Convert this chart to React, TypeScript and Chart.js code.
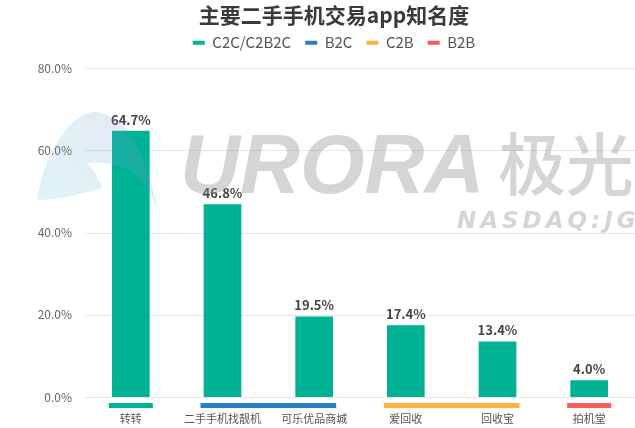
import React, { useEffect, useRef } from "react";
import { Chart, registerables } from "chart.js";

Chart.register(...registerables);

const titleText = "主要二手手机交易app知名度";
const categories = ["转转", "二手手机找靓机", "可乐优品商城", "爱回收", "回收宝", "拍机堂"];
const values = [64.7, 46.8, 19.5, 17.4, 13.4, 4.0];
const groupNames = ["C2C/C2B2C", "B2C", "C2B", "B2B"];
const groupColors = ["#00b294", "#2a7fc5", "#ffb243", "#ff5b5b"];
const categoryGroup = [0, 1, 1, 2, 2, 3];
const yTicks = [0, 20, 40, 60, 80];

const FONT = "'Noto Sans CJK SC', 'Noto Sans', sans-serif";

const decorPlugin = {
  id: "decor",
  beforeDatasetsDraw(chart: any) {
    const ctx = chart.ctx;
    const y = chart.scales.y;
    const area = chart.chartArea;
    ctx.save();
    ctx.strokeStyle = "#e6e6e6";
    ctx.lineWidth = 1;
    yTicks.forEach((t) => {
      const py = Math.round(y.getPixelForValue(t)) + 0.5;
      ctx.beginPath();
      ctx.moveTo(area.left, py);
      ctx.lineTo(chart.width, py);
      ctx.stroke();
    });
    ctx.restore();
  },
  afterDatasetsDraw(chart: any) {
    const ctx = chart.ctx;
    const x = chart.scales.x;
    const y = chart.scales.y;
    const meta = chart.getDatasetMeta(0);
    ctx.save();
    // value labels
    ctx.fillStyle = "#444";
    ctx.font = `bold 13px ${FONT}`;
    ctx.textAlign = "center";
    ctx.textBaseline = "bottom";
    meta.data.forEach((bar: any, i: number) => {
      ctx.fillText(values[i].toFixed(1) + "%", bar.x, bar.y - 5);
    });
    // group underlines
    const base = y.getPixelForValue(0);
    let start = 0;
    for (let i = 1; i <= categories.length; i++) {
      if (i === categories.length || categoryGroup[i] !== categoryGroup[start]) {
        const x0 = x.getPixelForValue(start) - 22;
        const x1 = x.getPixelForValue(i - 1) + 22;
        ctx.fillStyle = groupColors[categoryGroup[start]];
        ctx.fillRect(x0, base + 6, x1 - x0, 5);
        start = i;
      }
    }
    // watermark
    ctx.globalAlpha = 0.2;
    const grad = ctx.createLinearGradient(37, 200, 140, 110);
    grad.addColorStop(0, "#5cc8cc");
    grad.addColorStop(1, "#7f8fd8");
    ctx.fillStyle = grad;
    ctx.beginPath();
    ctx.moveTo(37, 200);
    ctx.bezierCurveTo(45, 150, 70, 115, 93, 112);
    ctx.bezierCurveTo(125, 110, 150, 160, 158, 215);
    ctx.bezierCurveTo(150, 180, 130, 160, 87, 163);
    ctx.bezierCurveTo(95, 172, 100, 180, 102, 188);
    ctx.bezierCurveTo(80, 195, 55, 200, 37, 200);
    ctx.fill();
    ctx.globalAlpha = 1;
    ctx.fillStyle = "rgba(150,150,150,0.4)";
    ctx.textAlign = "left";
    ctx.textBaseline = "alphabetic";
    ctx.font = `italic bold 83px 'Liberation Sans', sans-serif`;
    ctx.fillText("URORA", 180, 193);
    ctx.font = `500 68px ${FONT}`;
    ctx.fillText("极光", 498, 190);
    ctx.font = `italic bold 23px 'DejaVu Sans', sans-serif`;
    (ctx as any).letterSpacing = "4px";
    ctx.fillText("NASDAQ:JG", 457, 228);
    ctx.restore();
  },
};

export default function App() {
  const ref = useRef<HTMLCanvasElement>(null);
  useEffect(() => {
    document.body.style.margin = "0";
    const chart = new Chart(ref.current as HTMLCanvasElement, {
      type: "bar",
      data: {
        labels: categories,
        datasets: [
          {
            label: groupNames[0],
            data: values,
            backgroundColor: groupColors[0],
            barThickness: 37,
            xAxisID: "x",
          },
        ],
      },
      options: {
        animation: false,
        responsive: true,
        maintainAspectRatio: false,
        layout: { padding: { left: 33, right: 0, top: 0, bottom: 0 } },
        plugins: {
          title: {
            display: true,
            text: titleText,
            color: "#3a3a3a",
            font: { family: FONT, size: 21, weight: "bold" },
            padding: { top: 2, bottom: -6 },
          },
          legend: {
            display: true,
            labels: {
              color: "#555",
              font: { family: FONT, size: 15 },
              boxWidth: 12,
              boxHeight: 4,
              padding: 14,
              generateLabels: () =>
                groupNames.map((n, i) => ({
                  text: n,
                  fillStyle: groupColors[i],
                  strokeStyle: groupColors[i],
                  lineWidth: 0,
                  hidden: false,
                  datasetIndex: 0,
                  fontColor: "#555",
                })),
            },
            onClick: () => {},
          },
          tooltip: { enabled: false },
        },
        scales: {
          x: {
            grid: { display: false, drawTicks: false },
            border: { display: false },
            afterFit: (s: any) => {
              s.height = 31;
            },
            ticks: {
              color: "#555",
              font: { family: FONT, size: 11 },
              padding: 15,
              maxRotation: 0,
              autoSkip: false,
            },
          },
          xTop: {
            type: "category",
            position: "top",
            labels: categories,
            grid: { display: false, drawTicks: false },
            border: { display: false },
            ticks: { display: false },
            afterFit: (s: any) => {
              s.height = 8;
            },
          },
          y: {
            min: 0,
            max: 80,
            grid: { display: false, drawTicks: false },
            border: { display: false },
            afterFit: (s: any) => {
              s.width = 52;
            },
            ticks: {
              stepSize: 20,
              color: "#666",
              font: { family: FONT, size: 12 },
              padding: 13,
              callback: (v: any) => Number(v).toFixed(1) + "%",
            },
          },
        },
      },
      plugins: [decorPlugin],
    });
    return () => chart.destroy();
  }, []);
  return (
    <div style={{ position: "fixed", left: 0, top: 0, width: 635, height: 428 }}>
      <canvas ref={ref} />
    </div>
  );
}
